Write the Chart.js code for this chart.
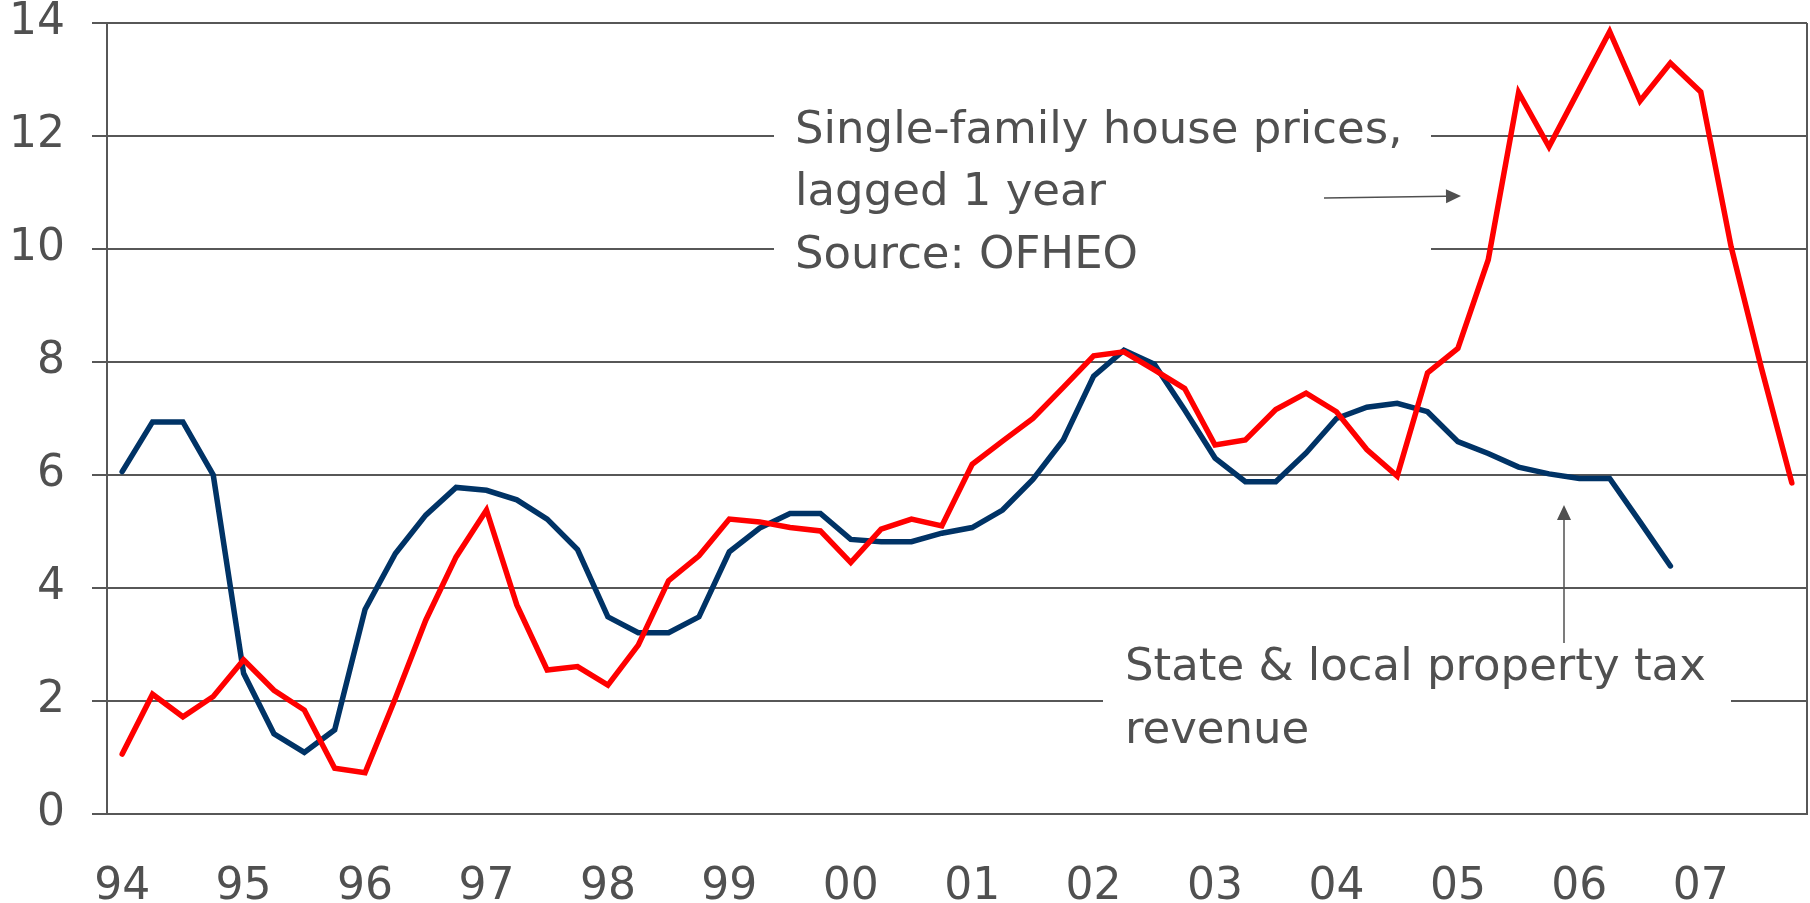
<!DOCTYPE html>
<html>
<head>
<meta charset="utf-8">
<script src="https://cdn.jsdelivr.net/npm/chart.js@4.4.0/dist/chart.umd.min.js"></script>
<style>
  html, body { margin: 0; padding: 0; background: #fff; }
  #wrap { width: 1810px; height: 903px; position: relative; }
</style>
</head>
<body>
<div id="wrap"><canvas id="chart"></canvas></div>
<script>
// years shown on the x axis, one category per quarter
const years = ['94', '95', '96', '97', '98', '99', '00', '01', '02', '03', '04', '05', '06', '07'];
const quarters = ['Q1', 'Q2', 'Q3', 'Q4'];

// State & local property tax revenue (% change)
const taxRevenue = [
    6.06, 6.94, 6.94, 6.00,
    2.49, 1.42, 1.09, 1.49,
    3.62, 4.61, 5.29, 5.78,
    5.73, 5.56, 5.22, 4.68,
    3.49, 3.21, 3.21, 3.49,
    4.64, 5.06, 5.32, 5.32,
    4.86, 4.82, 4.82, 4.97,
    5.07, 5.38, 5.92, 6.62,
    7.75, 8.21, 7.96, 7.15,
    6.30, 5.88, 5.88, 6.39,
    7.00, 7.20, 7.27, 7.12,
    6.59, 6.38, 6.14, 6.02,
    5.94, 5.94, 5.17, 4.39,
    null, null, null, null
];

// Single-family house prices, lagged 1 year (% change)
const housePrices = [
    1.06, 2.12, 1.72, 2.08,
    2.73, 2.19, 1.84, 0.81,
    0.73, 2.05, 3.43, 4.55,
    5.38, 3.70, 2.55, 2.61,
    2.28, 2.99, 4.13, 4.57,
    5.22, 5.17, 5.07, 5.01,
    4.45, 5.04, 5.22, 5.10,
    6.19, 6.60, 7.00, 7.55,
    8.11, 8.18, 7.86, 7.53,
    6.53, 6.62, 7.16, 7.45,
    7.12, 6.45, 5.98, 7.81,
    8.24, 9.81, 12.77, 11.81,
    12.83, 13.85, 12.62, 13.29,
    12.78, 10.04, 7.89, 5.86
];

const yTicks = [0, 2, 4, 6, 8, 10, 12, 14];

const labels = [];
years.forEach(y => quarters.forEach(q => labels.push(y + q)));

const FONT = 'DejaVu Sans';
const TEXT = '#505050';
const GRID = '#575757';

// white boxes behind the notes, text and arrows
const notes = {
    id: 'notes',
    beforeDatasetsDraw(chart) {
        const { ctx, chartArea } = chart;
        ctx.save();
        ctx.fillStyle = '#ffffff';
        ctx.fillRect(774, 100, 1431 - 774, 190);
        ctx.fillRect(1103, 640, 1731 - 1103, 120);
        // right border of the plot
        ctx.strokeStyle = GRID;
        ctx.lineWidth = 2;
        ctx.beginPath();
        ctx.moveTo(chartArea.right, chartArea.top);
        ctx.lineTo(chartArea.right, chartArea.bottom);
        ctx.stroke();
        ctx.restore();
    },
    afterDatasetsDraw(chart) {
        const { ctx } = chart;
        ctx.save();
        ctx.fillStyle = TEXT;
        ctx.font = '45px "' + FONT + '"';
        ctx.textAlign = 'left';
        ctx.textBaseline = 'alphabetic';
        ctx.fillText('Single-family house prices,', 795, 143);
        ctx.fillText('lagged 1 year', 795, 205);
        ctx.fillText('Source: OFHEO', 795, 268);
        ctx.fillText('State & local property tax', 1125, 680);
        ctx.fillText('revenue', 1125, 743);

        const arrow = (x1, y1, x2, y2) => {
            const a = Math.atan2(y2 - y1, x2 - x1);
            const len = 15, half = 7;
            const bx = x2 - len * Math.cos(a), by = y2 - len * Math.sin(a);
            ctx.strokeStyle = TEXT;
            ctx.lineWidth = 1.5;
            ctx.beginPath();
            ctx.moveTo(x1, y1);
            ctx.lineTo(bx, by);
            ctx.stroke();
            ctx.beginPath();
            ctx.moveTo(x2, y2);
            ctx.lineTo(bx + half * Math.sin(a), by - half * Math.cos(a));
            ctx.lineTo(bx - half * Math.sin(a), by + half * Math.cos(a));
            ctx.closePath();
            ctx.fill();
        };
        arrow(1324, 198, 1461, 196);
        arrow(1564, 643, 1564, 505);
        ctx.restore();
    }
};

new Chart(document.getElementById('chart'), {
    type: 'line',
    data: {
        labels,
        datasets: [
            {
                label: 'Single-family house prices, lagged 1 year',
                data: housePrices,
                borderColor: '#ff0000',
                borderWidth: 5.5,
                tension: 0,
                pointRadius: 0,
                borderCapStyle: 'round',
                fill: false
            },
            {
                label: 'State & local property tax revenue',
                data: taxRevenue,
                borderColor: '#003366',
                borderWidth: 5.5,
                tension: 0,
                pointRadius: 0,
                borderCapStyle: 'round',
                fill: false,
                spanGaps: false
            }
        ]
    },
    options: {
        responsive: true,
        maintainAspectRatio: false,
        animation: false,
        layout: { padding: 0 },
        plugins: {
            legend: { display: false },
            tooltip: { enabled: false }
        },
        scales: {
            x: {
                type: 'category',
                offset: true,
                grid: { display: false, drawTicks: false },
                border: { display: true, color: GRID, width: 2 },
                ticks: {
                    autoSkip: false,
                    maxRotation: 0,
                    padding: 47,
                    color: TEXT,
                    font: { family: FONT, size: 44 },
                    callback: (v, i) => (i % 4 === 0 ? years[i / 4] : '')
                },
                afterFit: s => { s.height = 89; s.paddingLeft = 0; s.paddingRight = 3; }
            },
            y: {
                min: 0,
                max: 14,
                afterBuildTicks: s => { s.ticks = yTicks.map(v => ({ value: v })); },
                grid: { color: GRID, lineWidth: 2, drawTicks: true, tickLength: 15, tickColor: GRID },
                border: { display: true, color: GRID, width: 2 },
                ticks: {
                    padding: 27,
                    color: TEXT,
                    font: { family: FONT, size: 44 }
                },
                afterFit: s => { s.width = 107; s.paddingTop = 23; s.paddingBottom = 0; }
            }
        }
    },
    plugins: [notes]
});
</script>
</body>
</html>
